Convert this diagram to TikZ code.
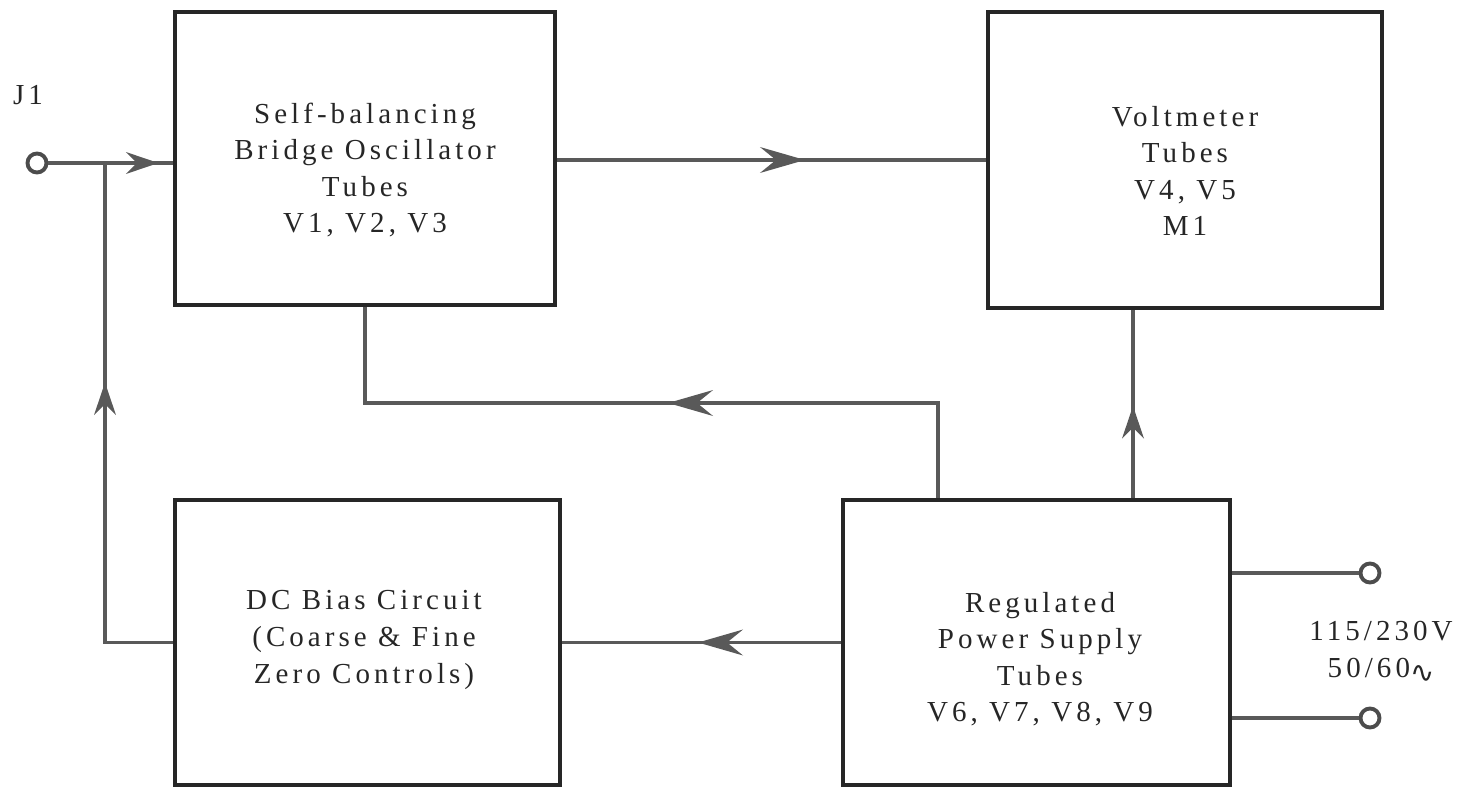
\documentclass[tikz,border=0pt]{standalone}
\usepackage{fontspec}
\setmainfont{Liberation Serif}[LetterSpace=14]
\newfontfamily\symfont{DejaVu Sans}
\usetikzlibrary{arrows.meta,decorations.markings}

\begin{document}
\begin{tikzpicture}[x=0.02cm,y=-0.02cm,
        block/.style={draw=black!85,line width=2.3pt,inner sep=0pt},
        blocktext/.style={align=center,text=black!85,font=\fontsize{16.5}{20.8}\selectfont},
        wire/.style={color=black!65,line width=2.2pt},
        term/.style={circle,draw=black!70,line width=2.2pt,minimum size=0.38cm,inner sep=0pt},
        arrowat/.style={postaction={decorate,decoration={markings,
            mark=at position #1 with {\arrow{Stealth[length=0.65cm,width=0.44cm,inset=0.22cm,line width=0pt]}}}}},
        bigarrowat/.style={postaction={decorate,decoration={markings,
            mark=at position #1 with {\arrow{Stealth[length=0.9cm,width=0.52cm,inset=0.32cm,line width=0pt]}}}}}]

            \useasboundingbox (0,0) rectangle (1464,791);

            % Blocks
            \node[block,minimum width=7.6cm,minimum height=5.86cm] (osc) at (365,158.5) {};
            \node[blocktext] (osctext) at (365,170) {Self-balancing\\Bridge Oscillator\\Tubes\\V1, V2, V3};

            \node[block,minimum width=7.88cm,minimum height=5.92cm] (volt) at (1185,160) {};
            \node[blocktext] (volttext) at (1185,171) {Voltmeter\\Tubes\\V4, V5\\M1};

            \node[block,minimum width=7.7cm,minimum height=5.7cm] (bias) at (367.5,642.5) {};
            \node[blocktext] (biastext) at (364,640) {DC Bias Circuit\\(Coarse \& Fine\\Zero Controls)};

            \node[block,minimum width=7.74cm,minimum height=5.7cm] (psu) at (1036.5,642.5) {};
            \node[blocktext] (psutext) at (1040,659) {Regulated\\Power Supply\\Tubes\\V6, V7, V8, V9};

            % Terminals and their labels
            \node[term] (j1) at (37,163) {};
            \node[blocktext] (j1lbl) at (28,95) {J1};
            \node[term] (acA) at (1370,573) {};
            \node[term] (acB) at (1370,718) {};
            \node[blocktext] (aclbl) at (1381,652) {115/230V\\50/60{\symfont\raisebox{-3pt}{∿}}};

            \coordinate (jn) at (105,163);
            \coordinate (bend) at (938,403);
            \coordinate (vtap) at (1133,0);

            % Signal and supply lines
            \draw[wire,arrowat=2.2cm] (j1) -- (osc.west |- j1);
            \draw[wire,bigarrowat=4.96cm] (osc.east |- volt.west) -- (volt.west);
            \draw[wire,bigarrowat=7.3cm] (psu.north -| bend) -- (bend) -- (osc.south |- bend) -- (osc.south);
            \draw[wire,arrowat=1.84cm] (psu.north -| vtap) -- (volt.south -| vtap);
            \draw[wire,bigarrowat=2.86cm] (psu.west) -- (bias.east);
            \draw[wire,arrowat=6.56cm] (bias.west) -| (jn);

            % Mains input
            \draw[wire] (psu.east |- acA) -- (acA);
            \draw[wire] (psu.east |- acB) -- (acB);

\end{tikzpicture}
\end{document}
